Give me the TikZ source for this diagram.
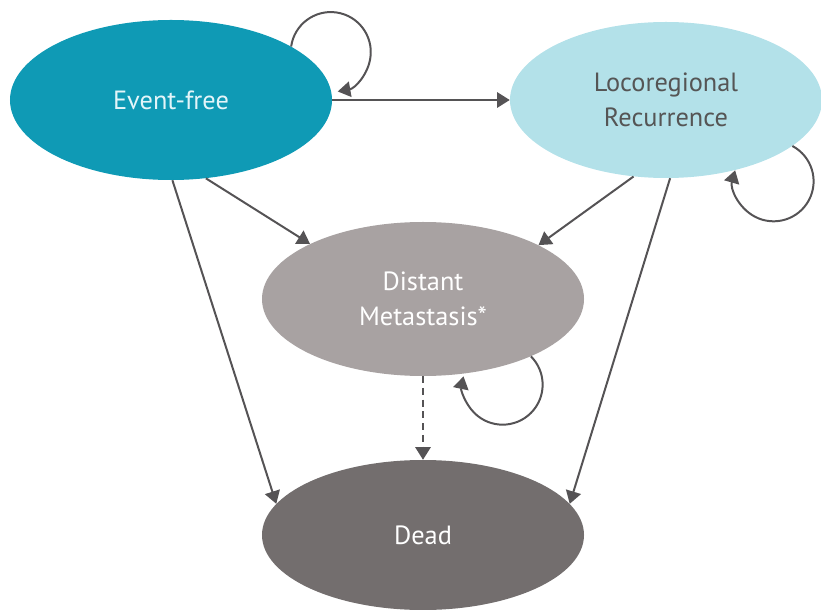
\documentclass[tikz,border=0pt]{standalone}
\usepackage{fontspec}
\setmainfont{PT Sans}
\usetikzlibrary{shapes.geometric,arrows.meta}
\definecolor{efcol}{HTML}{0F9AB5}
\definecolor{lrcol}{HTML}{B3E1E9}
\definecolor{dmcol}{HTML}{A8A2A2}
\definecolor{deadcol}{HTML}{736E6E}
\definecolor{arrcol}{HTML}{555355}
\definecolor{eftext}{HTML}{E4F5F9}
\definecolor{lrtext}{HTML}{555555}
\begin{document}
\begin{tikzpicture}[x=0.03cm,y=0.03cm,
  state/.style={ellipse,draw=none,inner sep=0pt,align=center,
    font=\fontsize{22.5}{29.5}\selectfont},
  conn/.style={draw=arrcol,line width=1.7pt,
    -{Triangle[length=0.38cm,width=0.46cm]}}]
\useasboundingbox (0,0) rectangle (821,609);
\clip (0,0) rectangle (821,609);
\node[state,fill=efcol,text=eftext,minimum width=9.66cm,minimum height=4.8cm] (ef) at (171,509) {Event-free};
\node[state,fill=lrcol,text=lrtext,minimum width=9.36cm,minimum height=4.68cm] (lr) at (666,509) {Locoregional\\Recurrence};
\node[state,fill=dmcol,text=white,minimum width=9.66cm,minimum height=4.62cm] (dm) at (423,310) {Distant\\Metastasis*};
\node[state,fill=deadcol,text=white,minimum width=9.66cm,minimum height=4.5cm] (dead) at (423,74) {Dead};
% transitions
\draw[conn] (ef.east) -- (lr.west);
\draw[conn] (ef.-66) -- (dm.154);
\draw[conn] (ef.-89) -- (dead.168);
\draw[conn] (lr.-113) -- (dm.25);
\draw[conn] (lr.-87) -- (dead.12);
\draw[conn,dashed,dash pattern=on 6pt off 4pt] (dm.south) -- (dead.north);
% self loops
\draw[conn] (ef.24) arc[start angle=172,end angle=-80,radius=40];
\draw[conn] (lr.-20) arc[start angle=62,end angle=-196,radius=40];
\draw[conn] (dm.-28) arc[start angle=45,end angle=-192,radius=40];
\end{tikzpicture}
\end{document}
